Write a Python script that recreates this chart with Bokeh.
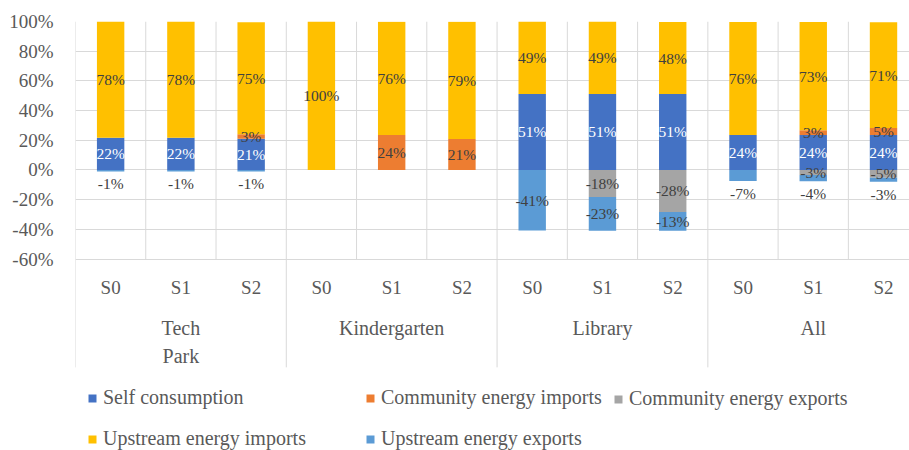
import numpy as np
from bokeh.plotting import figure
from bokeh.models import ColumnDataSource, Range1d, FixedTicker, Legend, LegendItem
from bokeh.core.properties import value
from bokeh.embed import file_html
from bokeh.resources import INLINE

# ---- data ----
groups = ["Tech\nPark", "Kindergarten", "Library", "All"]
scenarios = ["S0", "S1", "S2"]
self_consumption = [21.7, 21.7, 21.0, 0, 0, 0, 51.2, 51.2, 51.2, 23.6, 23.6, 23.6]
community_imports = [0, 0, 3.1, 0, 23.6, 20.8, 0, 0, 0, 0, 3.1, 4.6]
upstream_imports = [78.3, 78.3, 75.4, 100, 76.2, 79.0, 48.8, 48.8, 48.4, 76.1, 73.0, 71.3]
community_exports = [0, 0, 0, 0, 0, 0, 0, -18.3, -28.3, 0, -3.4, -5.3]
upstream_exports = [-1.0, -1.0, -1.0, 0, 0, 0, -40.8, -22.6, -12.7, -7.4, -4.3, -2.6]
y_ticks = [-60, -40, -20, 0, 20, 40, 60, 80, 100]
series_names = ["Self consumption", "Community energy imports", "Community energy exports",
                "Upstream energy imports", "Upstream energy exports"]
colors = {"self": "#4472C4", "cimp": "#ED7D31", "cexp": "#A5A5A5", "uimp": "#FFC000", "uexp": "#5B9BD5"}

FONT = "Liberation Serif"
TXT = "#595959"
LBL = "#404040"
GRID = "#D9D9D9"

n_cat = len(groups) * len(scenarios)
xs = np.arange(n_cat) + 0.5
scen_labels = [s for g in groups for s in scenarios]

src = ColumnDataSource(dict(x=xs, self=self_consumption, cimp=community_imports,
                            uimp=upstream_imports, cexp=community_exports, uexp=upstream_exports))

y_min_axis = min(y_ticks)
axis_bottom = -133
p = figure(width=909, height=450, x_range=Range1d(0, 11.87), y_range=Range1d(-189, 100),
           output_backend="svg", toolbar_location=None,
           min_border_left=75, min_border_right=0, min_border_top=21, min_border_bottom=0)
p.outline_line_color = None
p.xaxis.visible = False
p.xgrid.visible = False
p.ygrid.grid_line_color = GRID
p.ygrid.grid_line_width = 1
p.yaxis.ticker = FixedTicker(ticks=y_ticks)
p.yaxis.major_label_overrides = {t: f"{t}%" for t in y_ticks}
p.yaxis.axis_line_color = None
p.yaxis.major_tick_line_color = None
p.yaxis.minor_tick_line_color = None
p.yaxis.major_label_text_font = FONT
p.yaxis.major_label_text_font_size = "19px"
p.yaxis.major_label_text_color = TXT
p.yaxis.major_label_standoff = 16

# vertical grid / separators
bounds = np.arange(n_cat + 1)
p.segment(x0=bounds, x1=bounds, y0=[y_min_axis] * len(bounds), y1=[max(y_ticks)] * len(bounds),
          line_color=GRID, line_width=1)
gb = np.arange(0, n_cat + 1, len(scenarios))
p.segment(x0=gb, x1=gb, y0=[axis_bottom] * len(gb), y1=[y_min_axis] * len(gb),
          line_color=GRID, line_width=1)

bw = 0.39
pos = p.vbar_stack(["self", "cimp", "uimp"], x="x", width=bw, source=src,
                   color=[colors["self"], colors["cimp"], colors["uimp"]], line_color=None)
neg = p.vbar_stack(["cexp", "uexp"], x="x", width=bw, source=src,
                   color=[colors["cexp"], colors["uexp"]], line_color=None)

# data labels
lx, ly, lt, lc, lo, lb = [], [], [], [], [], []
def add_stack(cols, vals_list, txtcols):
    base = np.zeros(n_cat)
    for vals, tc, name in zip(vals_list, txtcols, cols):
        v = np.array(vals, dtype=float)
        for i in range(n_cat):
            if v[i] != 0:
                lx.append(xs[i]); lt.append(f"{round(v[i]):d}%"); lc.append(tc)
                if name == "uexp" and abs(v[i]) < 10:
                    ly.append(base[i] + v[i]); lo.append(4); lb.append("top")
                else:
                    ly.append(base[i] + v[i] / 2); lo.append(0); lb.append("middle")
        base = base + v

add_stack(["self", "cimp", "uimp"], [self_consumption, community_imports, upstream_imports],
          ["white", LBL, LBL])
add_stack(["cexp", "uexp"], [community_exports, upstream_exports], [LBL, LBL])
lsrc = ColumnDataSource(dict(x=lx, y=ly, text=lt, color=lc, yo=lo, bl=lb))
p.text(x="x", y="y", text="text", source=lsrc, text_color="color", y_offset="yo",
       text_baseline="bl", text_align="center", text_font=value(FONT), text_font_size="15.5px")

# category labels
p.text(x=xs, y=[y_min_axis] * n_cat, text=scen_labels, y_offset=28, text_align="center",
       text_baseline="middle", text_font=value(FONT), text_font_size="19px", text_color=TXT)
gx = [(i * len(scenarios)) + len(scenarios) / 2 for i in range(len(groups))]
p.text(x=gx, y=[y_min_axis] * len(groups), text=groups, y_offset=58, text_align="center",
       text_baseline="top", text_line_height=1.28, text_font=value(FONT),
       text_font_size="20px", text_color=TXT)

# legends
rmap = {series_names[0]: pos[0], series_names[1]: pos[1], series_names[3]: pos[2],
        series_names[2]: neg[0], series_names[4]: neg[1]}
cols = [([series_names[0], series_names[3]], (12, 0)),
        ([series_names[1], series_names[4]], (290, 0)),
        ([series_names[2]], (538, 40))]
for names, loc in cols:
    leg = Legend(items=[LegendItem(label=n, renderers=[rmap[n]]) for n in names], location=loc,
                 label_text_font=FONT, label_text_font_size="20px", label_text_color=TXT,
                 glyph_width=10, glyph_height=10, label_standoff=6, padding=0, margin=0,
                 spacing=18, label_height=22, background_fill_alpha=0, border_line_color=None)
    p.add_layout(leg)

open("out.html", "w").write(file_html(p, INLINE))
